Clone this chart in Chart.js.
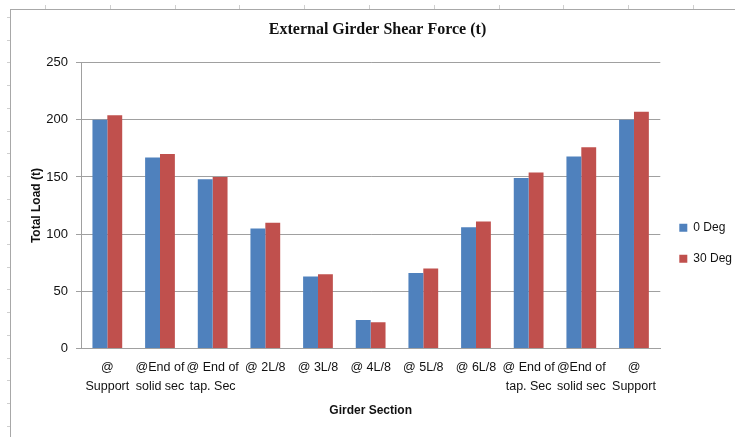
<!DOCTYPE html>
<html>
<head>
<meta charset="utf-8">
<script src="https://cdn.jsdelivr.net/npm/chart.js@4/dist/chart.umd.min.js"></script>
<style>
  html, body { margin: 0; padding: 0; background: #fff; }
  #wrap { position: relative; width: 735px; height: 437px; overflow: hidden; }
  #frame { position: absolute; left: 10px; top: 9px; width: 740px; height: 440px;
           border-top: 1px solid #a8a8a8; border-left: 1px solid #a8a8a8; }
  .cm { position: absolute; top: 5px; width: 1px; height: 4px; background: #cfcfcf; }
  .rm { position: absolute; left: 7px; width: 3px; height: 1px; background: #cfcfcf; }
  #chart { position: absolute; left: 0; top: 0; }
</style>
</head>
<body>
<div id="wrap">
  <div id="frame"></div>
  <canvas id="chart" width="735" height="437"></canvas>
</div>
<script>
// spreadsheet gridline stubs around the embedded chart
const wrap = document.getElementById('wrap');
for (let i = 0; i < 11; i++) {
    const d = document.createElement('div');
    d.className = 'cm';
    d.style.left = (45 + i * 64.8) + 'px';
    wrap.appendChild(d);
}
for (let i = 0; i < 19; i++) {
    const d = document.createElement('div');
    d.className = 'rm';
    d.style.top = (17 + i * 22.7) + 'px';
    wrap.appendChild(d);
}

const sections = [
    ['@', 'Support'], ['@End of', 'solid sec'], ['@ End of', 'tap. Sec'],
    '@ 2L/8', '@ 3L/8', '@ 4L/8', '@ 5L/8', '@ 6L/8',
    ['@ End of', 'tap. Sec'], ['@End of', 'solid sec'], ['@', 'Support']
];
const deg0 = [200, 167, 148, 105, 63, 25, 66, 106, 149, 168, 200];
const deg30 = [204, 170, 150, 110, 65, 23, 70, 111, 154, 176, 207];
const yTicks = [0, 50, 100, 150, 200, 250];

const sans = '"Liberation Sans", Arial, sans-serif';

new Chart(document.getElementById('chart'), {
    type: 'bar',
    data: {
        labels: sections,
        datasets: [{
            label: '0 Deg',
            data: deg0,
            backgroundColor: '#4F81BD',
            borderWidth: 0
        }, {
            label: '30 Deg',
            data: deg30,
            backgroundColor: '#C0504D',
            borderWidth: 0
        }]
    },
    options: {
        responsive: false,
        animation: false,
        layout: { padding: { left: 13, right: -7, top: 0, bottom: 0 } },
        datasets: { bar: { categoryPercentage: 0.565, barPercentage: 1 } },
        plugins: {
            title: {
                display: true,
                text: 'External Girder Shear Force (t)',
                color: '#111',
                font: { family: '"Liberation Serif", "Times New Roman", serif', size: 16, weight: 'bold' },
                padding: { top: 20.4, bottom: 23 }
            },
            legend: {
                position: 'right',
                fullSize: false,
                title: { display: true, text: ' ', font: { size: 12 }, padding: { top: 61, bottom: 0 } },
                labels: {
                    boxWidth: 8,
                    boxHeight: 8,
                    padding: 19,
                    color: '#111',
                    font: { family: sans, size: 12 }
                }
            },
            tooltip: { enabled: false }
        },
        scales: {
            x: {
                grid: { display: false, drawTicks: false },
                border: { display: true, color: '#a0a0a0' },
                ticks: {
                    autoSkip: false,
                    maxRotation: 0,
                    padding: 10,
                    color: '#111',
                    font: { family: sans, size: 12.5, lineHeight: '19px' }
                },
                title: {
                    display: true,
                    text: 'Girder Section',
                    color: '#111',
                    font: { family: sans, size: 12, weight: 'bold' },
                    padding: { top: 7.3, bottom: 18.8 }
                },
                afterFit: s => { s.height = 88.5; }
            },
            y: {
                min: 0,
                max: 250,
                afterBuildTicks: s => { s.ticks = yTicks.map(v => ({ value: v })); },
                grid: { color: '#a0a0a0', tickLength: 5, lineWidth: 1 },
                border: { display: true, color: '#a0a0a0' },
                ticks: {
                    padding: 8,
                    color: '#111',
                    font: { family: sans, size: 13 }
                },
                title: {
                    display: true,
                    text: 'Total Load (t)',
                    color: '#111',
                    font: { family: sans, size: 12, weight: 'bold' },
                    padding: { top: 16.8, bottom: 2 }
                },
                afterFit: s => { s.width = 68; }
            }
        }
    }
});
</script>
</body>
</html>
